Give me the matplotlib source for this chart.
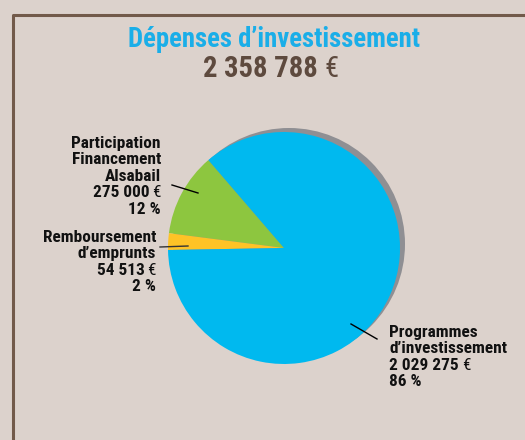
import matplotlib
matplotlib.use("Agg")
import matplotlib.pyplot as plt
from matplotlib.patches import Circle
from matplotlib import font_manager

# ---- data ----
categories = ["Participation\nFinancement\nAlsabail", "Remboursement\nd\u2019emprunts", "Programmes\nd\u2019investissement"]
amounts = [275000, 54513, 2029275]
amount_labels = ["275 000", "54 513", "2 029 275"]
currency = "\u20ac"
pct_labels = ["12 %", "2 %", "86 %"]
colors = ["#8dc63f", "#fec326", "#00b9ef"]
title = "D\u00e9penses d\u2019investissement"
total_label = "2 358 788"

names = {f.name for f in font_manager.fontManager.ttflist}
cond = None
for cand in ["Roboto Condensed", "Liberation Sans Narrow", "Open Sans Condensed", "Roboto"]:
    if cand in names:
        cond = cand
        break
FAM = [cond, "DejaVu Sans"]

BG = "#dcd2cc"
W, H = 525, 440
fig = plt.figure(figsize=(W / 100, H / 100), dpi=100, facecolor=BG)
ax = fig.add_axes([0, 0, 1, 1])
ax.set_facecolor(BG)

def Y(y):
    return H - y

# pie shadow
cx, cy, r = 284, Y(248), 116
ax.add_patch(Circle((cx + 5, cy + 4), r, facecolor="#8f8f93", edgecolor="none", zorder=1))
wedges, _ = ax.pie(amounts, colors=colors, startangle=130.7, counterclock=True,
                   center=(cx, cy), radius=r, frame=True,
                   wedgeprops=dict(linewidth=0))
for w in wedges:
    w.set_zorder(2)
ax.set_xlim(0, W)
ax.set_ylim(0, H)
ax.set_aspect("equal")
ax.axis("off")

renderer = fig.canvas.get_renderer()
inv = ax.transData.inverted()

def ext(t):
    bb = t.get_window_extent(renderer=renderer)
    (x0, _), (x1, _) = inv.transform([[bb.x0, 0], [bb.x1, 0]])
    return x0, x1

# border
ax.plot([13, 13, W + 5], [Y(445), Y(15), Y(15)], color="#725a4a", lw=2.2, solid_capstyle="butt")

# title
ax.text(274, Y(39), title, ha="center", va="center", fontsize=19.3, fontweight="bold",
        color="#1aaee8", family=FAM)
ax.text(318, Y(69), total_label, ha="right", va="center", fontsize=20.6, fontweight="bold",
        color="#5e4a3e", family=FAM)
ax.text(324, Y(69), currency, ha="left", va="center", fontsize=20.6, fontweight="normal",
        color="#5e4a3e", family=FAM)

# leader lines
ax.plot([172, 198], [Y(185), Y(193)], color="black", lw=1, zorder=3)
ax.plot([160, 188], [Y(247), Y(246)], color="#333333", lw=1, zorder=3)
ax.plot([351, 377], [Y(324), Y(339)], color="black", lw=1, zorder=3)

FS = 12.4
kw = dict(va="center", fontsize=FS, color="#111111", family=FAM, zorder=4)

def label(x, ytop, names_lines, amount, pct, ha):
    step = 16.6
    lines = names_lines
    for i, s in enumerate(lines):
        ax.text(x, Y(ytop + i * step), s, ha=ha, fontweight="bold", **kw)
    ya = Y(ytop + len(lines) * step)
    if ha == "right":
        e = ax.text(x, ya, currency, ha="right", fontweight="normal", **kw)
        x0, _ = ext(e)
        ax.text(x0 - 3, ya, amount, ha="right", fontweight="bold", **kw)
    else:
        n = ax.text(x, ya, amount, ha="left", fontweight="bold", **kw)
        _, x1 = ext(n)
        ax.text(x1 + 3, ya, currency, ha="left", fontweight="normal", **kw)
    ax.text(x, Y(ytop + (len(lines) + 1) * step), pct, ha=ha, fontweight="bold", **kw)

for i, (x, ytop, ha) in enumerate([(161, 143, "right"), (156, 237, "right"), (389, 332, "left")]):
    label(x, ytop, categories[i].split("\n"), amount_labels[i], pct_labels[i], ha)

fig.savefig("out.png", dpi=100, facecolor=BG)
